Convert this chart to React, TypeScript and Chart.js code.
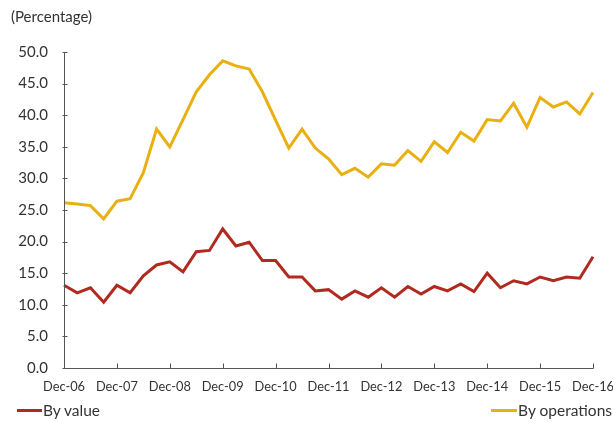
import React, { useEffect, useRef } from "react";
import { Chart, registerables } from "chart.js";

Chart.register(...registerables);

const quarters = [
  "Dec-06", "Mar-07", "Jun-07", "Sep-07",
  "Dec-07", "Mar-08", "Jun-08", "Sep-08",
  "Dec-08", "Mar-09", "Jun-09", "Sep-09",
  "Dec-09", "Mar-10", "Jun-10", "Sep-10",
  "Dec-10", "Mar-11", "Jun-11", "Sep-11",
  "Dec-11", "Mar-12", "Jun-12", "Sep-12",
  "Dec-12", "Mar-13", "Jun-13", "Sep-13",
  "Dec-13", "Mar-14", "Jun-14", "Sep-14",
  "Dec-14", "Mar-15", "Jun-15", "Sep-15",
  "Dec-15", "Mar-16", "Jun-16", "Sep-16",
  "Dec-16",
];

const byValue = [
  13.1, 11.9, 12.7, 10.4, 13.1, 11.9, 14.6, 16.3, 16.8, 15.2,
  18.4, 18.6, 22.0, 19.3, 19.9, 17.0, 17.0, 14.4, 14.4, 12.2,
  12.4, 10.9, 12.2, 11.2, 12.7, 11.2, 12.9, 11.7, 12.9, 12.2,
  13.3, 12.1, 15.0, 12.7, 13.8, 13.3, 14.4, 13.8, 14.4, 14.2,
  17.6,
];

const byOperations = [
  26.15, 25.95, 25.7, 23.6, 26.4, 26.8, 30.9, 37.8, 35.0, 39.3,
  43.7, 46.4, 48.6, 47.8, 47.3, 43.7, 39.2, 34.8, 37.8, 34.8,
  33.1, 30.6, 31.6, 30.2, 32.3, 32.1, 34.4, 32.7, 35.8, 34.1,
  37.3, 35.9, 39.3, 39.1, 41.9, 38.1, 42.8, 41.3, 42.1, 40.2,
  43.6,
];

const yTicks = [0, 5, 10, 15, 20, 25, 30, 35, 40, 45, 50];

const RED = "#B02A1F";
const YELLOW = "#E9B012";
const FONT = "Lato, 'Open Sans', sans-serif";

const axisPlugin = {
  id: "customAxes",
  afterDraw(chart: any) {
    const { ctx, chartArea } = chart;
    const xs = chart.scales.x;
    const ys = chart.scales.y;
    ctx.save();
    ctx.strokeStyle = "#555";
    ctx.lineWidth = 1;
    ctx.beginPath();
    const ax = Math.round(chartArea.left) + 0.5;
    const ay = Math.round(chartArea.bottom) + 0.5;
    ctx.moveTo(ax, Math.round(ys.getPixelForValue(50)));
    ctx.lineTo(ax, ay);
    ctx.lineTo(Math.round(xs.getPixelForValue(quarters.length - 1)) + 0.5, ay);
    yTicks.forEach((v) => {
      const py = Math.round(ys.getPixelForValue(v)) + 0.5;
      ctx.moveTo(ax - 2, py);
      ctx.lineTo(ax + 3, py);
    });
    quarters.forEach((_, i) => {
      if (i % 4 === 0) {
        const px = Math.round(xs.getPixelForValue(i)) + 0.5;
        ctx.moveTo(px, ay);
        ctx.lineTo(px, ay - 5);
      }
    });
    ctx.stroke();
    ctx.restore();
  },
};

export default function App() {
  const ref = useRef<HTMLCanvasElement>(null);

  useEffect(() => {
    if (!ref.current) return;
    const chart = new Chart(ref.current, {
      type: "line",
      data: {
        labels: quarters,
        datasets: [
          {
            label: "By value",
            data: byValue,
            borderColor: RED,
            backgroundColor: RED,
            borderWidth: 3,
            pointRadius: 0,
            tension: 0,
          },
          {
            label: "By operations",
            data: byOperations,
            borderColor: YELLOW,
            backgroundColor: YELLOW,
            borderWidth: 3,
            pointRadius: 0,
            tension: 0,
          },
        ],
      },
      options: {
        animation: false,
        responsive: false,
        maintainAspectRatio: false,
        layout: { padding: { top: 52, right: 20, left: 0, bottom: 0 } },
        plugins: {
          legend: { display: false },
          tooltip: { enabled: false },
        },
        scales: {
          x: {
            offset: false,
            grid: { display: false },
            border: { display: false },
            ticks: {
              autoSkip: false,
              maxRotation: 0,
              minRotation: 0,
              padding: 3,
              color: "#333",
              font: { family: FONT, size: 12.8 },
              callback: (_v: any, i: number) => (i % 4 === 0 ? quarters[i] : ""),
            },
            afterFit: (s: any) => {
              s.height = 54;
              s.paddingLeft = 0;
              s.paddingRight = 0;
            },
          },
          y: {
            min: 0,
            max: 50,
            grid: { display: false },
            border: { display: false },
            ticks: {
              stepSize: 5,
              padding: 8,
              color: "#333",
              font: { family: FONT, size: 15 },
              callback: (v: any) => Number(v).toFixed(1),
            },
            afterFit: (s: any) => {
              s.width = 64;
              s.paddingTop = 0;
              s.paddingBottom = 0;
            },
          },
        },
      },
      plugins: [axisPlugin],
    });
    return () => chart.destroy();
  }, []);

  return (
    <div
      style={{
        position: "fixed",
        left: 0,
        top: 0,
        width: 613,
        height: 422,
        background: "#fff",
        fontFamily: FONT,
        color: "#333",
      }}
    >
      <canvas ref={ref} width={613} height={422} style={{ display: "block" }} />
      <div style={{ position: "absolute", left: 11, top: 7, fontSize: 15 }}>
        (Percentage)
      </div>
      <div
        style={{
          position: "absolute",
          left: 17,
          top: 401,
          fontSize: 15.5,
          display: "flex",
          alignItems: "center",
        }}
      >
        <span style={{ display: "inline-block", width: 25, height: 3, background: RED, marginRight: 1 }} />
        By value
      </div>
      <div
        style={{
          position: "absolute",
          right: 1,
          top: 401,
          fontSize: 15.5,
          display: "flex",
          alignItems: "center",
        }}
      >
        <span style={{ display: "inline-block", width: 26, height: 3, background: YELLOW, marginRight: 1 }} />
        By operations
      </div>
    </div>
  );
}
